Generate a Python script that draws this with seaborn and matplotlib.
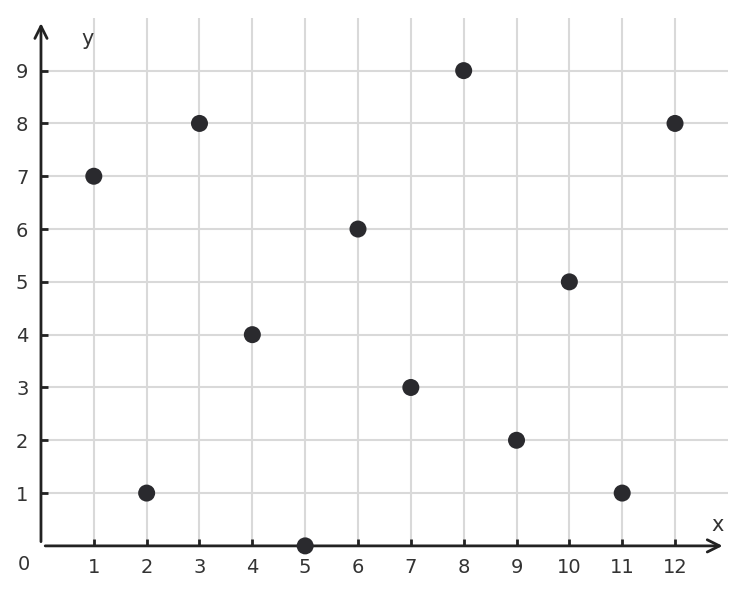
import pandas as pd
import seaborn as sns
import matplotlib.pyplot as plt

x_values = [1, 2, 3, 4, 5, 6, 7, 8, 9, 10, 11, 12]
y_values = [7, 1, 8, 4, 0, 6, 3, 9, 2, 5, 1, 8]
x_ticks = list(range(1, 13))
y_ticks = list(range(1, 10))

df = pd.DataFrame({"x": x_values, "y": y_values})

sns.set_style("white")
plt.rcParams["font.family"] = "DejaVu Sans"

fig = plt.figure(figsize=(7.45, 5.94), dpi=100)
ax = fig.add_axes([0.055, 0.081, 0.922, 0.889])

ax.set_xlim(0, 13)
ax.set_ylim(0, 10)

ax.set_xticks(x_ticks)
ax.set_yticks(y_ticks)
ax.set_xticklabels([str(v) for v in x_ticks])
ax.set_yticklabels([str(v) for v in y_ticks])
ax.grid(True, color="#d9d9d9", linewidth=1.5)
ax.set_axisbelow(True)

sns.scatterplot(data=df, x="x", y="y", s=150, color="#2a2a2e",
                edgecolor="none", ax=ax, clip_on=False, zorder=5)

for side in ["top", "right", "left", "bottom"]:
    ax.spines[side].set_visible(False)

ax.tick_params(bottom=True, left=True, direction="in", length=5, width=2,
               color="#222222", labelsize=14, labelcolor="#333333", pad=9)

# axes with arrows
arrow = dict(arrowstyle="->", lw=2, color="#222222", mutation_scale=22,
             shrinkA=0, shrinkB=0)
ax.annotate("", xy=(12.9, 0), xytext=(0.08, 0), arrowprops=arrow,
            annotation_clip=False)
ax.annotate("", xy=(0, 9.9), xytext=(0, 0.08), arrowprops=arrow,
            annotation_clip=False)

ax.set_xlabel("")
ax.set_ylabel("")
ax.text(12.8, 0.2, "x", fontsize=15, color="#333333", ha="center", va="bottom")
ax.text(0.88, 9.6, "y", fontsize=15, color="#333333", ha="center", va="center")
ax.text(-0.33, -0.35, "0", fontsize=14, color="#333333", ha="center", va="center")

fig.savefig("out.png", dpi=100)
